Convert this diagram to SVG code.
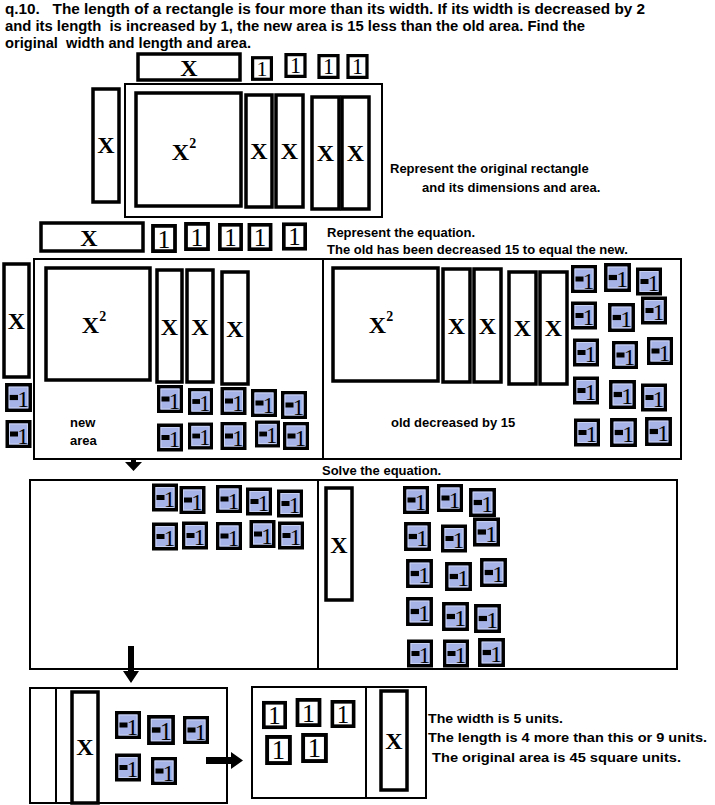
<svg xmlns="http://www.w3.org/2000/svg" xmlns:xlink="http://www.w3.org/1999/xlink" width="715" height="805" viewBox="0 0 715 805">
<style>
.t{font-family:"Liberation Sans",Arial,sans-serif;font-weight:bold;font-size:13px;fill:#000;white-space:pre}
.h{font-family:"Liberation Sans",Arial,sans-serif;font-weight:bold;font-size:14px;fill:#000;white-space:pre}
.fr{fill:none;stroke:#000;stroke-width:2}
.bar{fill:#fff;stroke:#000;stroke-width:3.5}
.xl{font-family:"Liberation Serif","Times New Roman",serif;font-weight:bold;font-size:24px;text-anchor:middle;fill:#000}
.ar{fill:#000}
</style>
<defs>
<symbol id="neg" viewBox="0 0 26 28">
<rect x="1.75" y="1.75" width="22.5" height="24.5" fill="#a6b3e6" stroke="#000" stroke-width="3.5"/>
<rect x="4" y="4" width="18" height="20" fill="none" stroke="#c9d2f2" stroke-width="1"/>
<rect x="4.5" y="11.5" width="8" height="5" fill="#000"/>
<text x="17.5" y="23.5" font-family="Liberation Serif,serif" font-size="23" text-anchor="middle">1</text>
</symbol>
<symbol id="one" viewBox="0 0 24 27">
<rect x="1.75" y="1.75" width="20.5" height="23.5" fill="#fff" stroke="#000" stroke-width="3.5"/>
<text x="12" y="22" font-family="Liberation Serif,serif" font-size="24" text-anchor="middle">1</text>
</symbol>
</defs>
<rect width="715" height="805" fill="#fff"/>

<g id="header">
<text class="h" xml:space="preserve" x="5" y="14" textLength="640" lengthAdjust="spacingAndGlyphs">q.10.   The length of a rectangle is four more than its width. If its width is decreased by 2</text>
<text class="h" xml:space="preserve" x="5" y="31" textLength="580" lengthAdjust="spacingAndGlyphs">and its length  is increased by 1, the new area is 15 less than the old area. Find the</text>
<text class="h" xml:space="preserve" x="5" y="48" textLength="246" lengthAdjust="spacingAndGlyphs">original  width and length and area.</text>
</g>

<g id="labels">
<text class="t" x="390" y="173">Represent the original rectangle</text>
<text class="t" x="422" y="192">and its dimensions and area.</text>
<text class="t" x="327" y="237">Represent the equation.</text>
<text class="t" x="327" y="254">The old has been decreased 15 to equal the new.</text>
<text class="t" x="70" y="427">new</text>
<text class="t" x="70" y="445">area</text>
<text class="t" x="391" y="427">old decreased by 15</text>
<text class="t" x="322" y="475">Solve the equation.</text>
<text class="t" x="428" y="723" textLength="135" lengthAdjust="spacingAndGlyphs">The width is 5 units.</text>
<text class="t" x="428" y="742" textLength="279" lengthAdjust="spacingAndGlyphs">The length is 4 more than this or 9 units.</text>
<text class="t" x="432" y="762" textLength="249" lengthAdjust="spacingAndGlyphs">The original area is 45 square units.</text>
</g>

<!-- Original rectangle -->
<g id="top-xbar"><rect class="bar" x="138" y="54" width="102" height="26"/><text class="xl" x="189" y="76">X</text></g>
<g id="top-ones">
<use href="#one" xlink:href="#one" x="251" y="56" width="22" height="25"/>
<use href="#one" xlink:href="#one" x="284" y="53" width="23" height="25"/>
<use href="#one" xlink:href="#one" x="317" y="54" width="23" height="25"/>
<use href="#one" xlink:href="#one" x="346" y="54" width="23" height="25"/>
</g>
<g id="orig-frame"><rect class="fr" x="125" y="84" width="257" height="133"/></g>
<g id="orig-left-x"><rect class="bar" x="93" y="89" width="26" height="113"/><text class="xl" x="106" y="153">X</text></g>
<g id="orig-x2"><rect class="bar" x="136" y="93" width="105" height="113"/><text class="xl" x="184" y="160">X<tspan font-size="14" dy="-12">2</tspan></text></g>
<g id="orig-x1"><rect class="bar" x="246" y="95" width="26" height="112"/><text class="xl" x="259" y="159">X</text></g>
<g id="orig-x2b"><rect class="bar" x="276" y="95" width="27" height="112"/><text class="xl" x="289.5" y="159">X</text></g>
<g id="orig-x3"><rect class="bar" x="312" y="97" width="27" height="112"/><text class="xl" x="325.5" y="161">X</text></g>
<g id="orig-x4"><rect class="bar" x="342" y="97" width="27" height="112"/><text class="xl" x="355.5" y="161">X</text></g>

<g id="row2-xbar"><rect class="bar" x="41" y="223" width="102" height="28"/><text class="xl" x="89" y="246">X</text></g>
<g id="row2-ones">
<use href="#one" xlink:href="#one" x="151" y="224" width="26" height="29"/>
<use href="#one" xlink:href="#one" x="184" y="222" width="26" height="29"/>
<use href="#one" xlink:href="#one" x="218" y="223" width="25" height="28"/>
<use href="#one" xlink:href="#one" x="247" y="223" width="26" height="28"/>
<use href="#one" xlink:href="#one" x="282" y="222" width="25" height="29"/>
</g>

<!-- Equation frame -->
<g id="eq-frame"><rect class="fr" x="34" y="259" width="647" height="200"/><line x1="323" y1="259" x2="323" y2="459" stroke="#000" stroke-width="2"/></g>
<g id="new-left-x"><rect class="bar" x="4" y="264" width="25" height="113"/><text class="xl" x="16.5" y="329">X</text></g>
<g id="new-x2"><rect class="bar" x="46" y="268" width="104" height="112"/><text class="xl" x="94" y="333">X<tspan font-size="14" dy="-12">2</tspan></text></g>
<g id="new-x1"><rect class="bar" x="157" y="270" width="25" height="112"/><text class="xl" x="169.5" y="335">X</text></g>
<g id="new-x2b"><rect class="bar" x="187" y="270" width="26" height="112"/><text class="xl" x="200" y="335">X</text></g>
<g id="new-x3"><rect class="bar" x="222" y="272" width="26" height="112"/><text class="xl" x="235" y="337">X</text></g>
<g id="new-negs">
<use href="#neg" xlink:href="#neg" x="5" y="383" width="27" height="29"/>
<use href="#neg" xlink:href="#neg" x="5" y="420" width="27" height="28"/>
<use href="#neg" xlink:href="#neg" x="157" y="385" width="26" height="28"/>
<use href="#neg" xlink:href="#neg" x="188" y="388" width="25" height="27"/>
<use href="#neg" xlink:href="#neg" x="220" y="387" width="27" height="28"/>
<use href="#neg" xlink:href="#neg" x="251" y="389" width="26" height="28"/>
<use href="#neg" xlink:href="#neg" x="281" y="391" width="26" height="28"/>
<use href="#neg" xlink:href="#neg" x="157" y="423" width="26" height="29"/>
<use href="#neg" xlink:href="#neg" x="188" y="422" width="25" height="28"/>
<use href="#neg" xlink:href="#neg" x="220" y="422" width="27" height="28"/>
<use href="#neg" xlink:href="#neg" x="255" y="420" width="25" height="28"/>
<use href="#neg" xlink:href="#neg" x="283" y="422" width="26" height="28"/>
</g>
<g id="old-x2"><rect class="bar" x="333" y="268" width="105" height="113"/><text class="xl" x="381" y="333">X<tspan font-size="14" dy="-12">2</tspan></text></g>
<g id="old-x1"><rect class="bar" x="443" y="269" width="27" height="113"/><text class="xl" x="456.5" y="334">X</text></g>
<g id="old-x2b"><rect class="bar" x="474" y="269" width="27" height="113"/><text class="xl" x="487.5" y="334">X</text></g>
<g id="old-x3"><rect class="bar" x="509" y="272" width="27" height="112"/><text class="xl" x="522.5" y="336">X</text></g>
<g id="old-x4"><rect class="bar" x="540" y="272" width="27" height="112"/><text class="xl" x="553.5" y="336">X</text></g>
<g id="old-negs">
<use href="#neg" xlink:href="#neg" x="571" y="265" width="26" height="28"/>
<use href="#neg" xlink:href="#neg" x="604" y="263" width="27" height="29"/>
<use href="#neg" xlink:href="#neg" x="636" y="267" width="26" height="29"/>
<use href="#neg" xlink:href="#neg" x="571" y="301" width="26" height="29"/>
<use href="#neg" xlink:href="#neg" x="608" y="303" width="27" height="29"/>
<use href="#neg" xlink:href="#neg" x="641" y="296" width="26" height="29"/>
<use href="#neg" xlink:href="#neg" x="573" y="338" width="26" height="29"/>
<use href="#neg" xlink:href="#neg" x="612" y="341" width="26" height="28"/>
<use href="#neg" xlink:href="#neg" x="647" y="336" width="26" height="30"/>
<use href="#neg" xlink:href="#neg" x="573" y="376" width="26" height="29"/>
<use href="#neg" xlink:href="#neg" x="609" y="380" width="27" height="29"/>
<use href="#neg" xlink:href="#neg" x="641" y="383" width="26" height="29"/>
<use href="#neg" xlink:href="#neg" x="574" y="418" width="26" height="29"/>
<use href="#neg" xlink:href="#neg" x="610" y="418" width="27" height="29"/>
<use href="#neg" xlink:href="#neg" x="645" y="417" width="27" height="29"/>
</g>

<!-- Solve frame -->
<g id="solve-frame"><rect class="fr" x="30" y="480" width="647" height="189"/><line x1="318" y1="480" x2="318" y2="669" stroke="#000" stroke-width="2"/></g>
<g id="solve-left-negs">
<use href="#neg" xlink:href="#neg" x="152" y="483" width="26" height="29"/>
<use href="#neg" xlink:href="#neg" x="179" y="486" width="27" height="28"/>
<use href="#neg" xlink:href="#neg" x="216" y="485" width="26" height="28"/>
<use href="#neg" xlink:href="#neg" x="246" y="487" width="26" height="29"/>
<use href="#neg" xlink:href="#neg" x="277" y="489" width="26" height="29"/>
<use href="#neg" xlink:href="#neg" x="152" y="522" width="26" height="29"/>
<use href="#neg" xlink:href="#neg" x="182" y="521" width="26" height="29"/>
<use href="#neg" xlink:href="#neg" x="216" y="522" width="26" height="28"/>
<use href="#neg" xlink:href="#neg" x="249" y="520" width="27" height="28"/>
<use href="#neg" xlink:href="#neg" x="278" y="521" width="26" height="29"/>
</g>
<g id="solve-x"><rect class="bar" x="326" y="488" width="26" height="112"/><text class="xl" x="339" y="553">X</text></g>
<g id="solve-right-negs">
<use href="#neg" xlink:href="#neg" x="403" y="486" width="26" height="28"/>
<use href="#neg" xlink:href="#neg" x="437" y="484" width="26" height="28"/>
<use href="#neg" xlink:href="#neg" x="469" y="488" width="27" height="29"/>
<use href="#neg" xlink:href="#neg" x="404" y="522" width="27" height="29"/>
<use href="#neg" xlink:href="#neg" x="441" y="524" width="26" height="29"/>
<use href="#neg" xlink:href="#neg" x="473" y="517" width="27" height="30"/>
<use href="#neg" xlink:href="#neg" x="406" y="559" width="27" height="29"/>
<use href="#neg" xlink:href="#neg" x="445" y="562" width="27" height="29"/>
<use href="#neg" xlink:href="#neg" x="480" y="558" width="27" height="29"/>
<use href="#neg" xlink:href="#neg" x="406" y="597" width="27" height="29"/>
<use href="#neg" xlink:href="#neg" x="442" y="602" width="27" height="29"/>
<use href="#neg" xlink:href="#neg" x="474" y="604" width="27" height="29"/>
<use href="#neg" xlink:href="#neg" x="407" y="639" width="26" height="29"/>
<use href="#neg" xlink:href="#neg" x="443" y="639" width="26" height="29"/>
<use href="#neg" xlink:href="#neg" x="478" y="638" width="27" height="29"/>
</g>

<!-- Bottom -->
<g id="step-frame"><rect class="fr" x="30" y="688" width="197" height="115"/><line x1="56" y1="688" x2="56" y2="803" stroke="#000" stroke-width="2"/></g>
<g id="step-x"><rect class="bar" x="72" y="692" width="26" height="111"/><text class="xl" x="85" y="755">X</text></g>
<g id="step-negs">
<use href="#neg" xlink:href="#neg" x="115" y="710" width="26" height="30"/>
<use href="#neg" xlink:href="#neg" x="147" y="715" width="28" height="30"/>
<use href="#neg" xlink:href="#neg" x="183" y="715" width="26" height="30"/>
<use href="#neg" xlink:href="#neg" x="115" y="753" width="26" height="29"/>
<use href="#neg" xlink:href="#neg" x="150" y="757" width="28" height="28"/>
</g>
<g id="final-frame"><rect class="fr" x="252" y="687" width="174" height="111"/><line x1="366" y1="687" x2="366" y2="798" stroke="#000" stroke-width="2"/></g>
<g id="final-ones">
<use href="#one" xlink:href="#one" x="262" y="700" width="25" height="30"/>
<use href="#one" xlink:href="#one" x="295" y="698" width="27" height="29"/>
<use href="#one" xlink:href="#one" x="330" y="700" width="26" height="28"/>
<use href="#one" xlink:href="#one" x="265" y="735" width="27" height="30"/>
<use href="#one" xlink:href="#one" x="301" y="733" width="27" height="30"/>
</g>
<g id="final-x"><rect class="bar" x="381" y="691" width="26" height="99"/><text class="xl" x="394" y="749">X</text></g>

<g id="connectors">
<polygon class="ar" points="131,459 136,459 136,462 142,462 133.5,471 125,462 131,462"/>
<polygon class="ar" points="128,646 134,646 134,671 139,671 131,683 123,671 128,671"/>
<polygon class="ar" points="206,757 231,757 231,752 243,760.5 231,769 231,764 206,764"/>
</g>
</svg>
